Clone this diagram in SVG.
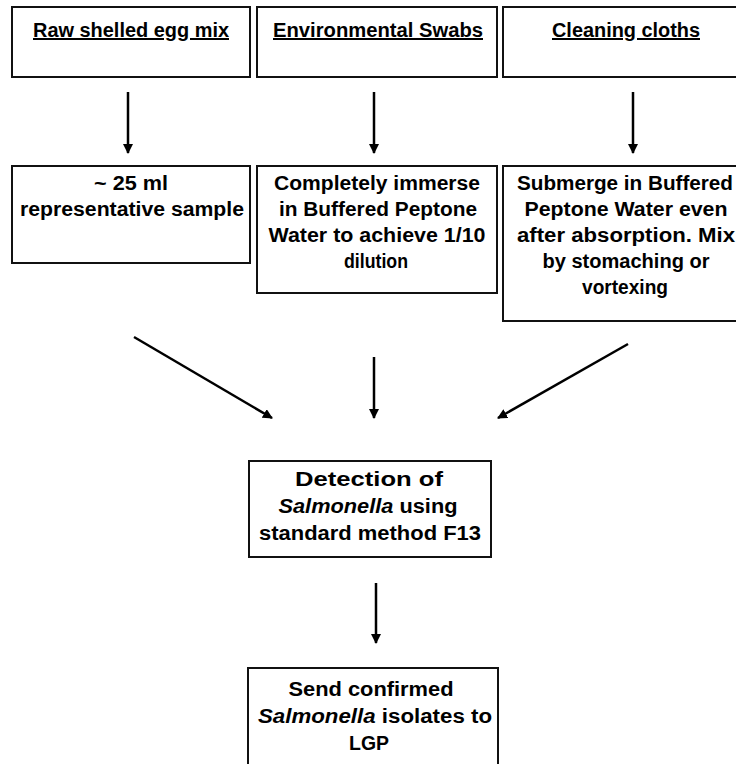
<svg xmlns="http://www.w3.org/2000/svg" width="736" height="764" viewBox="0 0 736 764">
<style>
.box{fill:#fff;stroke:#111;stroke-width:2}
.t{font-family:"Liberation Sans",Arial,sans-serif;font-weight:bold;font-size:20px;fill:#000;text-anchor:middle}
.u{text-decoration:underline}
.i{font-style:italic}
.c{stroke:#000;stroke-width:2.5;fill:none}
</style>
<defs>
<marker id="ah" viewBox="0 0 10 10" refX="9" refY="5" markerWidth="4" markerHeight="4" orient="auto" markerUnits="strokeWidth">
<path d="M0,0 L10,5 L0,10 z" fill="#000"/>
</marker>
</defs>
<rect width="736" height="764" fill="#fff"/>
<g id="n1">
<rect class="box" x="12" y="7" width="238" height="70"/>
<text class="t u" x="131" y="37" textLength="196" lengthAdjust="spacingAndGlyphs">Raw shelled egg mix</text>
</g>
<g id="n2">
<rect class="box" x="257" y="7" width="240" height="70"/>
<text class="t u" x="378" y="37" textLength="210" lengthAdjust="spacingAndGlyphs">Environmental Swabs</text>
</g>
<g id="n3">
<rect class="box" x="503" y="7" width="245" height="70"/>
<text class="t u" x="626" y="37" textLength="148" lengthAdjust="spacingAndGlyphs">Cleaning cloths</text>
</g>
<g id="n4">
<rect class="box" x="12" y="166" width="238" height="97"/>
<text class="t" x="131" y="190" textLength="74" lengthAdjust="spacingAndGlyphs">~ 25 ml</text>
<text class="t" x="132" y="216" textLength="224" lengthAdjust="spacingAndGlyphs">representative sample</text>
</g>
<g id="n5">
<rect class="box" x="257" y="166" width="240" height="127"/>
<text class="t" x="377" y="190" textLength="206" lengthAdjust="spacingAndGlyphs">Completely immerse</text>
<text class="t" x="378" y="216" textLength="198" lengthAdjust="spacingAndGlyphs">in Buffered Peptone</text>
<text class="t" x="377" y="242" textLength="217" lengthAdjust="spacingAndGlyphs">Water to achieve 1/10</text>
<text class="t" x="376" y="268" textLength="64" lengthAdjust="spacingAndGlyphs">dilution</text>
</g>
<g id="n6">
<rect class="box" x="503" y="166" width="245" height="155"/>
<text class="t" x="625" y="190" textLength="216" lengthAdjust="spacingAndGlyphs">Submerge in Buffered</text>
<text class="t" x="626" y="216" textLength="203" lengthAdjust="spacingAndGlyphs">Peptone Water even</text>
<text class="t" x="626" y="242" textLength="218" lengthAdjust="spacingAndGlyphs">after absorption. Mix</text>
<text class="t" x="626" y="268" textLength="167" lengthAdjust="spacingAndGlyphs">by stomaching or</text>
<text class="t" x="625" y="294" textLength="86" lengthAdjust="spacingAndGlyphs">vortexing</text>
</g>
<g id="n7">
<rect class="box" x="249" y="461" width="242" height="96"/>
<text class="t" x="369" y="486" textLength="148" lengthAdjust="spacingAndGlyphs">Detection of</text>
<text class="t" x="368" y="513" textLength="179" lengthAdjust="spacingAndGlyphs"><tspan class="i">Salmonella</tspan> using</text>
<text class="t" x="370" y="540" textLength="222" lengthAdjust="spacingAndGlyphs">standard method F13</text>
</g>
<g id="n8">
<rect class="box" x="248" y="668" width="250" height="110"/>
<text class="t" x="371" y="696" textLength="165" lengthAdjust="spacingAndGlyphs">Send confirmed</text>
<text class="t" x="375" y="723" textLength="234" lengthAdjust="spacingAndGlyphs"><tspan class="i">Salmonella</tspan> isolates to</text>
<text class="t" x="369" y="750" textLength="40" lengthAdjust="spacingAndGlyphs">LGP</text>
</g>
<g id="connectors">
<line class="c" x1="128" y1="92" x2="128" y2="153" marker-end="url(#ah)"/>
<line class="c" x1="374" y1="92" x2="374" y2="153" marker-end="url(#ah)"/>
<line class="c" x1="633" y1="92" x2="633" y2="153" marker-end="url(#ah)"/>
<line class="c" x1="134" y1="337" x2="272" y2="418" marker-end="url(#ah)"/>
<line class="c" x1="374" y1="357" x2="374" y2="418" marker-end="url(#ah)"/>
<line class="c" x1="628" y1="344" x2="498" y2="418" marker-end="url(#ah)"/>
<line class="c" x1="376" y1="583" x2="376" y2="643" marker-end="url(#ah)"/>
</g>
</svg>
